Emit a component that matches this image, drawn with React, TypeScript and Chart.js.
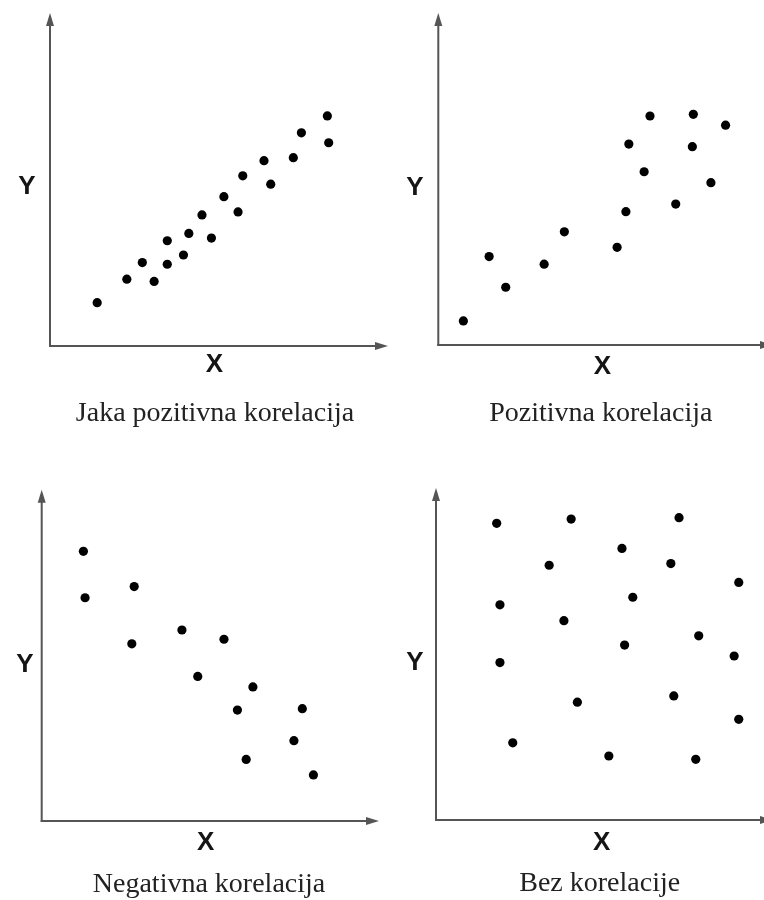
import React, { useEffect, useRef } from "react";
import { Chart, registerables } from "chart.js";

Chart.register(...registerables);

// ---------- data (axis units 0..10 along each arrowed axis) ----------
const strongPositiveX = [1.40, 2.28, 2.74, 3.09, 3.48, 3.48, 3.96, 4.12, 4.51, 4.79, 5.16, 5.58, 5.72, 6.35, 6.55, 7.22, 7.46, 8.23, 8.27];
const strongPositiveY = [1.31, 2.02, 2.52, 1.95, 3.18, 2.47, 2.75, 3.40, 3.96, 3.26, 4.51, 4.05, 5.14, 5.60, 4.89, 5.69, 6.44, 6.95, 6.14];

const positiveX = [0.77, 1.56, 2.07, 3.25, 3.87, 5.49, 5.76, 5.85, 6.32, 6.50, 7.29, 7.83, 7.80, 8.37, 8.82];
const positiveY = [0.73, 2.68, 1.75, 2.45, 3.43, 2.96, 4.04, 6.09, 5.25, 6.94, 4.27, 6.99, 6.01, 4.92, 6.66];

const negativeX = [1.24, 1.29, 2.75, 2.68, 4.17, 5.42, 4.64, 6.28, 5.82, 7.75, 7.50, 6.08, 8.08];
const negativeY = [8.19, 6.78, 7.12, 5.38, 5.80, 5.52, 4.39, 4.07, 3.37, 3.41, 2.44, 1.87, 1.40];

const noneX = [1.85, 4.12, 7.41, 5.67, 3.45, 7.16, 9.23, 1.95, 6.00, 3.90, 8.01, 5.75, 9.09, 1.95, 4.31, 7.25, 9.23, 2.34, 5.27, 7.92];
const noneY = [8.99, 9.12, 9.16, 8.23, 7.72, 7.77, 7.20, 6.52, 6.75, 6.04, 5.58, 5.30, 4.97, 4.77, 3.57, 3.76, 3.05, 2.34, 1.94, 1.84];

const captions = ["Jaka pozitivna korelacija", "Pozitivna korelacija", "Negativna korelacija", "Bez korelacije"];
const axisLabelX = "X";
const axisLabelY = "Y";
const axisMin = 0;
const axisMax = 10;

// ---------- layout / style ----------
const AXIS_COLOR = "#555555";
const DOT_COLOR = "#000000";
const TEXT_COLOR = "#151515";
const CAPTION_COLOR = "#222222";

type Layout = {
  left: number; top: number; width: number; height: number;
  pad: { left: number; top: number; right: number; bottom: number };
  yLab: [number, number]; xLab: [number, number]; cap: [number, number];
  tipOver: number;
};

const layouts: Layout[] = [
  { left: 0, top: 0, width: 400, height: 450, pad: { left: 50, top: 15, right: 13, bottom: 104 }, yLab: [27, 187], xLab: [214.5, 365], cap: [215, 420.7], tipOver: 1 },
  { left: 400, top: 0, width: 364, height: 450, pad: { left: 38.3, top: 15, right: 0, bottom: 105 }, yLab: [15, 188], xLab: [202.3, 366.7], cap: [200.8, 420.7], tipOver: 9 },
  { left: 0, top: 450, width: 400, height: 450, pad: { left: 41.7, top: 41.7, right: 22, bottom: 79 }, yLab: [25, 215], xLab: [205.7, 393.3], cap: [209, 441.7], tipOver: 1 },
  { left: 400, top: 450, width: 364, height: 450, pad: { left: 36, top: 40, right: 0, bottom: 80 }, yLab: [15, 213], xLab: [201.7, 393.3], cap: [199.7, 441], tipOver: 9 },
];

const panels = [
  { xs: strongPositiveX, ys: strongPositiveY, caption: captions[0] },
  { xs: positiveX, ys: positiveY, caption: captions[1] },
  { xs: negativeX, ys: negativeY, caption: captions[2] },
  { xs: noneX, ys: noneY, caption: captions[3] },
];

function makePlugin(layout: Layout, caption: string) {
  return {
    id: "arrowAxes",
    beforeDatasetsDraw(chart: any) {
      const { ctx, chartArea: a } = chart;
      const tip = a.right + layout.tipOver;
      ctx.save();
      ctx.strokeStyle = AXIS_COLOR;
      ctx.fillStyle = AXIS_COLOR;
      ctx.lineWidth = 2;
      // vertical axis
      ctx.beginPath();
      ctx.moveTo(a.left, a.bottom + 1);
      ctx.lineTo(a.left, a.top + 8);
      ctx.stroke();
      ctx.beginPath();
      ctx.moveTo(a.left, a.top - 2);
      ctx.lineTo(a.left - 4, a.top + 11);
      ctx.lineTo(a.left + 4, a.top + 11);
      ctx.closePath();
      ctx.fill();
      // horizontal axis
      ctx.beginPath();
      ctx.moveTo(a.left - 1, a.bottom);
      ctx.lineTo(tip - 9, a.bottom);
      ctx.stroke();
      ctx.beginPath();
      ctx.moveTo(tip, a.bottom);
      ctx.lineTo(tip - 13, a.bottom - 4);
      ctx.lineTo(tip - 13, a.bottom + 4);
      ctx.closePath();
      ctx.fill();
      ctx.restore();
    },
    afterDraw(chart: any) {
      const { ctx } = chart;
      ctx.save();
      ctx.fillStyle = TEXT_COLOR;
      ctx.font = "bold 26px 'Liberation Sans', Arial, sans-serif";
      ctx.textAlign = "center";
      ctx.textBaseline = "middle";
      ctx.fillText(axisLabelY, layout.yLab[0], layout.yLab[1]);
      ctx.fillText(axisLabelX, layout.xLab[0], layout.xLab[1]);
      ctx.fillStyle = CAPTION_COLOR;
      ctx.font = "28px 'Liberation Serif', 'Times New Roman', serif";
      ctx.textBaseline = "alphabetic";
      ctx.fillText(caption, layout.cap[0], layout.cap[1]);
      ctx.restore();
    },
  };
}

function Panel({ xs, ys, caption, layout }: { xs: number[]; ys: number[]; caption: string; layout: Layout }) {
  const ref = useRef<HTMLCanvasElement | null>(null);
  useEffect(() => {
    if (!ref.current) return;
    const chart = new Chart(ref.current, {
      type: "scatter",
      data: {
        datasets: [
          {
            label: caption,
            data: xs.map((x, i) => ({ x, y: ys[i] })),
            backgroundColor: DOT_COLOR,
            borderColor: DOT_COLOR,
            borderWidth: 0,
            pointRadius: 4.6,
            pointHoverRadius: 4.6,
          },
        ],
      },
      options: {
        responsive: false,
        animation: false,
        devicePixelRatio: 1,
        layout: { padding: layout.pad, autoPadding: false },
        plugins: { legend: { display: false }, tooltip: { enabled: false }, title: { display: false } },
        scales: {
          x: { type: "linear", min: axisMin, max: axisMax, display: false },
          y: { type: "linear", min: axisMin, max: axisMax, display: false },
        },
      },
      plugins: [makePlugin(layout, caption)],
    });
    return () => chart.destroy();
  }, [xs, ys, caption, layout]);
  return (
    <canvas
      ref={ref}
      width={layout.width}
      height={layout.height}
      style={{ position: "absolute", left: layout.left, top: layout.top, width: layout.width, height: layout.height }}
    />
  );
}

export default function App() {
  useEffect(() => {
    document.body.style.margin = "0";
    document.body.style.background = "#ffffff";
  }, []);
  return (
    <div style={{ position: "relative", width: 764, height: 900, background: "#ffffff", overflow: "hidden" }}>
      {panels.map((p, i) => (
        <Panel key={i} xs={p.xs} ys={p.ys} caption={p.caption} layout={layouts[i]} />
      ))}
    </div>
  );
}
